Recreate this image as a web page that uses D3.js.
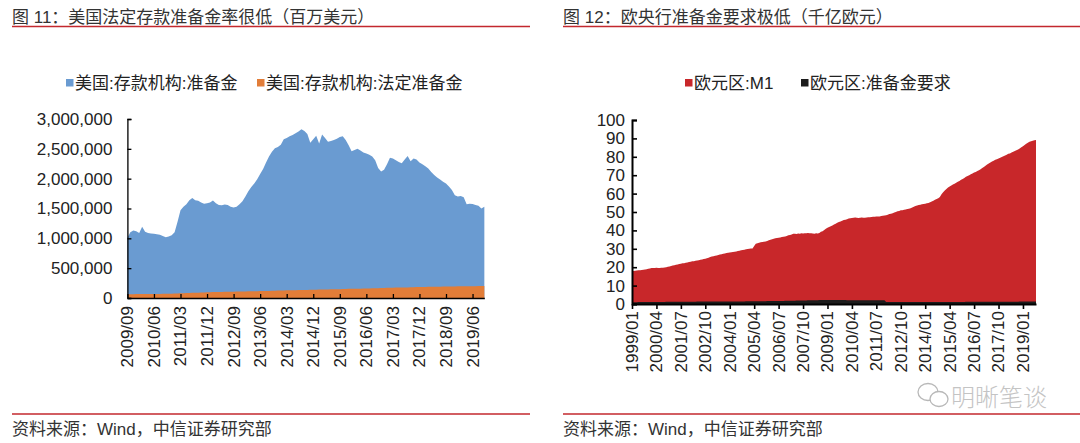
<!DOCTYPE html>
<html><head><meta charset="utf-8">
<script src="https://cdn.jsdelivr.net/npm/d3@7/dist/d3.min.js"></script>
<style>
body{margin:0;background:#fff}
text{font-family:"Liberation Sans","Noto Sans CJK SC",sans-serif}
</style>
</head><body>
<svg id="c" width="1080" height="443"></svg>
<script>
// ---------- Figure 11: US depository institutions (million USD), monthly from 2009/09 ----------
const usStart = [2009, 9];
const usReserves = [
  1010000,1100000,1130000,1120000,
  1090000,1195000,1110000,1090000,1080000,1075000,1070000,1060000,1040000,1020000,1030000,1050000,
  1100000,1280000,1470000,1530000,1570000,1640000,1675000,1640000,1630000,1600000,1580000,1590000,
  1600000,1635000,1590000,1560000,1555000,1565000,1560000,1530000,1515000,1530000,1570000,1620000,
  1700000,1790000,1860000,1920000,1990000,2080000,2160000,2270000,2370000,2450000,2510000,2530000,
  2570000,2660000,2680000,2710000,2730000,2760000,2790000,2830000,2800000,2750000,2600000,2660000,
  2720000,2590000,2740000,2680000,2620000,2630000,2650000,2670000,2700000,2710000,2650000,2560000,
  2460000,2480000,2500000,2470000,2440000,2420000,2400000,2370000,2310000,2180000,2120000,2150000,
  2240000,2350000,2340000,2310000,2280000,2260000,2320000,2380000,2290000,2340000,2320000,2270000,
  2240000,2210000,2170000,2110000,2060000,2020000,1985000,1950000,1920000,1870000,1810000,1720000,
  1700000,1710000,1690000,1570000,1580000,1575000,1560000,1545000,1500000,1530000
];
const usRequired = [
  62000,63000,64000,65000,
  66000,66000,67000,67000,68000,68000,69000,69000,70000,71000,71000,72000,
  74000,76000,78000,80000,82000,84000,86000,88000,90000,92000,94000,96000,
  98000,99000,100000,101000,102000,103000,104000,105000,106000,107000,108000,110000,
  111000,112000,113000,114000,115000,116000,117000,118000,119000,120000,122000,124000,
  126000,127000,128000,129000,130000,131000,132000,133000,134000,135000,137000,139000,
  140000,141000,142000,143000,144000,145000,146000,147000,148000,149000,151000,153000,
  154000,155000,156000,157000,158000,159000,160000,162000,163000,164000,166000,168000,
  170000,171000,172000,174000,175000,176000,177000,178000,180000,181000,183000,185000,
  186000,186000,187000,188000,189000,189000,190000,191000,192000,192000,193000,194000,
  195000,195000,196000,197000,198000,198000,199000,200000,201000,202000
];
const usTickLabels = ["2009/09","2010/06","2011/03","2011/12","2012/09","2013/06","2014/03",
  "2014/12","2015/09","2016/06","2017/03","2017/12","2018/09","2019/06"];
const usYTicks = [0,500000,1000000,1500000,2000000,2500000,3000000];
const usSeriesNames = ["美国:存款机构:准备金","美国:存款机构:法定准备金"];

// ---------- Figure 12: Euro area (100 billion EUR), monthly from 1999/01 ----------
const euStart = [1999, 1];
const euM1 = [
  17.8,18.0,18.1,18.2,18.3,18.4,18.5,18.6,18.8,18.9,19.1,19.3,
  19.5,19.6,19.6,19.7,19.6,19.6,19.7,19.7,19.8,20.0,20.2,20.4,
  20.7,20.9,21.1,21.3,21.5,21.7,21.9,22.1,22.2,22.4,22.6,22.8,
  23.0,23.2,23.3,23.5,23.7,23.8,24.0,24.2,24.4,24.6,24.9,25.1,
  25.5,25.8,26.0,26.2,26.4,26.6,26.9,27.1,27.3,27.5,27.7,27.9,
  28.0,28.1,28.2,28.4,28.6,28.8,29.0,29.2,29.3,29.5,29.7,29.9,
  30.0,30.1,30.2,31.5,32.8,33.0,33.3,33.5,33.7,33.8,34.0,34.3,
  34.6,34.9,35.2,35.5,35.7,35.9,36.0,36.2,36.4,36.6,36.7,37.0,
  37.3,37.5,37.8,38.2,38.2,38.1,38.3,38.2,38.4,38.3,38.4,38.5,
  38.6,38.4,38.5,38.3,38.2,38.4,38.3,38.6,39.2,39.6,40.2,40.9,
  41.4,41.8,42.3,42.7,43.2,43.6,44.1,44.5,44.9,45.3,45.6,45.8,
  46.1,46.4,46.6,46.8,46.9,47.0,46.9,46.8,46.9,47.0,46.9,46.9,
  47.0,47.1,47.2,47.3,47.4,47.4,47.6,47.5,47.6,47.8,48.0,48.1,
  48.2,48.5,48.9,49.1,49.3,49.7,50.0,50.4,50.6,50.9,51.0,51.2,
  51.4,51.6,51.8,52.1,52.4,52.8,53.2,53.6,53.8,54.0,54.2,54.3,
  54.5,54.7,54.9,55.3,55.7,56.1,56.6,57.1,57.5,58.2,59.6,60.8,
  61.7,62.5,63.3,63.9,64.4,64.9,65.4,65.9,66.4,66.9,67.5,68.0,
  68.5,69.1,69.6,70.0,70.5,70.9,71.4,71.8,72.3,72.7,73.3,73.9,
  74.5,75.1,75.8,76.4,76.9,77.4,77.9,78.4,78.7,79.1,79.5,79.9,
  80.3,80.7,81.1,81.6,81.8,82.3,82.8,83.2,83.6,84.0,84.5,85.2,
  85.8,86.4,87.1,87.6,88.2,88.5,88.7,89.0,89.1
];
const euReserveReq = [
  1.00,1.00,1.01,1.01,1.02,1.02,1.03,1.03,1.04,1.04,1.05,1.06,
  1.07,1.08,1.09,1.10,1.11,1.12,1.13,1.14,1.15,1.16,1.17,1.18,
  1.19,1.20,1.21,1.22,1.23,1.24,1.24,1.25,1.25,1.26,1.26,1.27,
  1.28,1.28,1.29,1.29,1.30,1.30,1.30,1.31,1.31,1.31,1.32,1.32,
  1.31,1.31,1.31,1.32,1.32,1.32,1.32,1.33,1.33,1.33,1.34,1.35,
  1.36,1.36,1.37,1.37,1.38,1.38,1.39,1.40,1.41,1.42,1.43,1.44,
  1.45,1.46,1.47,1.48,1.49,1.50,1.51,1.52,1.53,1.54,1.56,1.58,
  1.59,1.60,1.61,1.62,1.63,1.64,1.65,1.66,1.67,1.68,1.70,1.72,
  1.74,1.76,1.78,1.80,1.82,1.84,1.86,1.88,1.90,1.92,1.94,1.96,
  1.98,2.00,2.02,2.04,2.06,2.08,2.10,2.12,2.14,2.15,2.16,2.17,
  2.17,2.16,2.15,2.14,2.14,2.13,2.13,2.12,2.12,2.11,2.11,2.11,
  2.10,2.10,2.10,2.10,2.10,2.09,2.09,2.09,2.09,2.08,2.08,2.08,
  2.07,2.07,2.07,2.07,2.06,2.06,2.06,2.06,2.05,2.05,2.05,2.04,
  1.06,1.06,1.06,1.06,1.05,1.05,1.05,1.05,1.05,1.05,1.05,1.05,
  1.04,1.04,1.04,1.04,1.04,1.04,1.04,1.04,1.04,1.04,1.04,1.04,
  1.04,1.05,1.05,1.05,1.06,1.06,1.06,1.07,1.07,1.08,1.08,1.09,
  1.10,1.10,1.11,1.11,1.12,1.12,1.13,1.13,1.13,1.14,1.14,1.15,
  1.15,1.16,1.16,1.17,1.17,1.18,1.18,1.18,1.19,1.19,1.20,1.20,
  1.21,1.21,1.22,1.22,1.23,1.23,1.23,1.24,1.24,1.25,1.25,1.26,
  1.26,1.27,1.27,1.27,1.28,1.28,1.28,1.29,1.29,1.29,1.30,1.30,
  1.31,1.31,1.31,1.32,1.32,1.32,1.32,1.33,1.33
];
const euTickLabels = ["1999/01","2000/04","2001/07","2002/10","2004/01","2005/04","2006/07","2007/10",
  "2009/01","2010/04","2011/07","2012/10","2014/01","2015/04","2016/07","2017/10","2019/01"];
const euYTicks = [0,10,20,30,40,50,60,70,80,90,100];
const euSeriesNames = ["欧元区:M1","欧元区:准备金要求"];

const titles = ["图 11：美国法定存款准备金率很低（百万美元）","图 12：欧央行准备金要求极低（千亿欧元）"];
const sourceText = "资料来源：Wind，中信证券研究部";

// ---------- drawing ----------
const svg = d3.select("#c");
svg.append("rect").attr("width",1080).attr("height",443).attr("fill","#fff");
const RED_LINE = "#C3282E", TXT = "#333";
const FS = 17;

function monthIndex(label, start){
  const [y,m] = label.split("/").map(Number);
  return (y-start[0])*12 + (m-start[1]);
}

function frame(x0, x1, title){
  svg.append("text").attr("x",x0).attr("y",23).attr("font-size",FS).attr("fill",TXT).text(title);
  svg.append("line").attr("x1",x0).attr("x2",x1).attr("y1",26.5).attr("y2",26.5)
    .attr("stroke",RED_LINE).attr("stroke-width",1.6);
  svg.append("line").attr("x1",x0).attr("x2",x1).attr("y1",414).attr("y2",414)
    .attr("stroke",RED_LINE).attr("stroke-width",1.4);
  svg.append("text").attr("x",x0).attr("y",435).attr("font-size",FS).attr("fill",TXT).text(sourceText);
}
frame(12, 530, titles[0]);
frame(563, 1080, titles[1]);

function legend(items, y){
  items.forEach(it=>{
    svg.append("rect").attr("x",it.x).attr("y",y-4).attr("width",7.5).attr("height",7.5).attr("fill",it.color);
    svg.append("text").attr("x",it.x+9).attr("y",y+6).attr("font-size",FS).attr("fill","#222").text(it.name);
  });
}

// ---- Left chart ----
{
  const BLUE="#6A9BD1", ORANGE="#E27D38";
  const x = d3.scaleLinear().domain([0, usReserves.length-1]).range([127.4, 127.4+2.95*(usReserves.length-1)]);
  const y = d3.scaleLinear().domain([0, 3000000]).range([298, 119]);
  const g = svg.append("g");
  const area = d3.area().x((d,i)=>x(i)).y0(y(0)).y1(d=>y(d));
  g.append("path").datum(usReserves).attr("d",area).attr("fill",BLUE);
  g.append("path").datum(usRequired).attr("d",area).attr("fill",ORANGE);

  const ya = g.append("g").attr("transform",`translate(${x(0)},0)`)
    .call(d3.axisLeft(y).tickValues(usYTicks).tickSize(-4).tickPadding(15).tickFormat(d3.format(",")));
  ya.select(".domain").attr("stroke","#000").attr("stroke-width",1.3);
  ya.selectAll(".tick line").attr("stroke","#000").attr("stroke-width",1.3);
  ya.selectAll("text").attr("font-size",FS).attr("fill","#222").attr("font-family",null);

  const tickIdx = usTickLabels.map(l=>monthIndex(l, usStart));
  const xa = g.append("g").attr("transform",`translate(0,${y(0)})`)
    .call(d3.axisBottom(x).tickValues(tickIdx).tickSize(-4).tickSizeOuter(0).tickFormat(""));
  xa.select(".domain").attr("stroke","#000").attr("stroke-width",1.3);
  xa.selectAll(".tick line").attr("stroke","#000").attr("stroke-width",1.3);
  usTickLabels.forEach((l,i)=>{
    g.append("text").attr("transform",`translate(${x(tickIdx[i])},${y(0)+8}) rotate(-90)`)
      .attr("text-anchor","end").attr("dy","0.35em").attr("font-size",FS).attr("fill","#222").text(l);
  });
  legend([{x:66,color:BLUE,name:usSeriesNames[0]},{x:257,color:ORANGE,name:usSeriesNames[1]}], 83);
}

// ---- Right chart ----
{
  const RED="#C8272A", BLACK="#1c1c1c";
  const x = d3.scaleLinear().domain([0, euM1.length-1]).range([632, 632+1.629*(euM1.length-1)]);
  const y = d3.scaleLinear().domain([0, 100]).range([304, 120]);
  const g = svg.append("g");
  const area = d3.area().x((d,i)=>x(i)).y0(y(0)).y1(d=>y(d));
  g.append("path").datum(euM1).attr("d",area).attr("fill",RED);
  g.append("path").datum(euReserveReq).attr("d",area).attr("fill",BLACK);

  const ya = g.append("g").attr("transform",`translate(${x(0)},0)`)
    .call(d3.axisLeft(y).tickValues(euYTicks).tickSize(-5).tickPadding(7).tickFormat(d3.format("d")));
  ya.select(".domain").attr("stroke","#000").attr("stroke-width",2);
  ya.selectAll(".tick line").attr("stroke","#000").attr("stroke-width",1.6);
  ya.selectAll("text").attr("font-size",FS).attr("fill","#222").attr("font-family",null);

  const tickIdx = euTickLabels.map(l=>monthIndex(l, euStart));
  const xa = g.append("g").attr("transform",`translate(0,${y(0)})`)
    .call(d3.axisBottom(x).tickValues(tickIdx).tickSize(5).tickSizeOuter(0).tickFormat(""));
  xa.select(".domain").attr("stroke","#000").attr("stroke-width",2);
  xa.selectAll(".tick line").attr("stroke","#000").attr("stroke-width",1.6);
  euTickLabels.forEach((l,i)=>{
    g.append("text").attr("transform",`translate(${x(tickIdx[i])},${y(0)+7}) rotate(-90)`)
      .attr("text-anchor","end").attr("dy","0.35em").attr("font-size",FS).attr("fill","#222").text(l);
  });
  legend([{x:685,color:RED,name:euSeriesNames[0]},{x:801,color:BLACK,name:euSeriesNames[1]}], 83);
}

// ---- watermark ----
{
  const wm = svg.append("g").attr("fill","none").attr("stroke","#b8b8b8").attr("stroke-width",1.3);
  wm.append("ellipse").attr("cx",928).attr("cy",392).attr("rx",10).attr("ry",8.5);
  wm.append("ellipse").attr("cx",939).attr("cy",399).attr("rx",9).attr("ry",7.5).attr("fill","#fff");
  svg.append("text").attr("x",951).attr("y",406).attr("font-size",24).attr("fill","#c4c4c4")
    .attr("font-family","Noto Sans CJK SC").attr("font-weight",300).text("明晰笔谈");
}
</script>
</body></html>
